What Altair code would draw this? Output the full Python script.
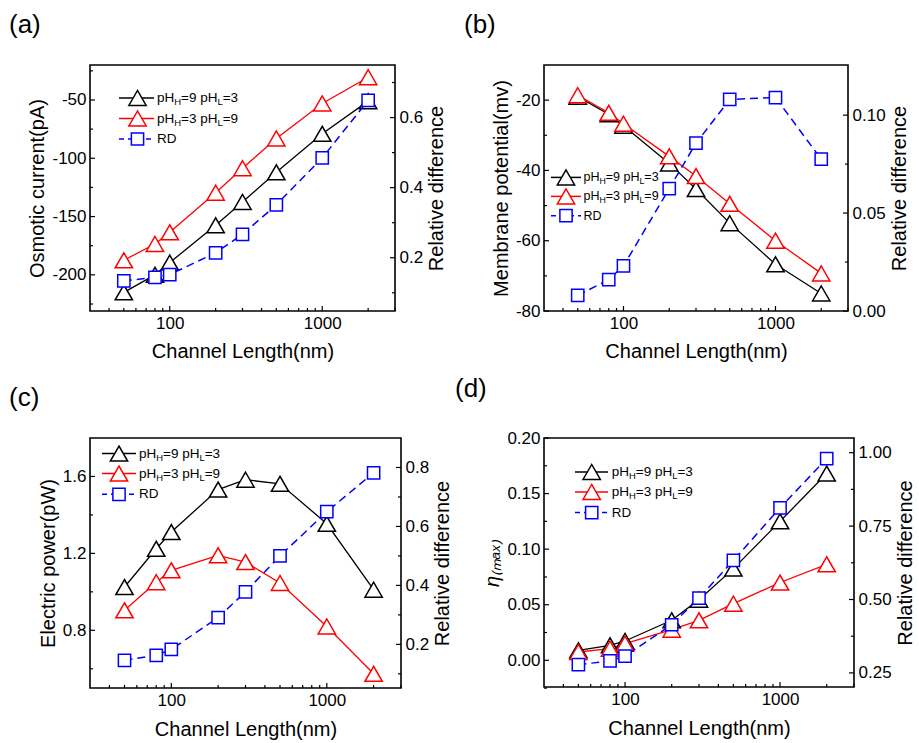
import altair as alt
import pandas as pd

# ---------------- data ----------------
X_NM = [50, 80, 100, 200, 300, 500, 1000, 2000]

# (a) osmotic current (pA)
A_HIGH = [-215, -200, -189.5, -157.5, -137.5, -112, -79, -51]
A_LOW = [-187.5, -173.5, -163.5, -129.5, -108.5, -83, -53, -30.5]
A_RD = [0.134, 0.144, 0.152, 0.214, 0.267, 0.351, 0.485, 0.649]

# (b) membrane potential (mV)
B_HIGH = [-19.0, -24.0, -27.3, -38.0, -45.3, -55.0, -66.7, -75.0]
B_LOW = [-18.6, -23.6, -26.7, -36.0, -41.6, -49.5, -60.0, -69.3]
B_RD = [0.008, 0.016, 0.023, 0.0625, 0.0857, 0.108, 0.109, 0.0775]

# (c) electric power (pW)
C_HIGH = [1.025, 1.224, 1.311, 1.532, 1.583, 1.562, 1.354, 1.011]
C_LOW = [0.904, 1.050, 1.112, 1.190, 1.155, 1.046, 0.820, 0.574]
C_RD = [0.146, 0.163, 0.183, 0.291, 0.378, 0.500, 0.650, 0.782]

# (d) eta (max)
D_HIGH = [0.009, 0.0135, 0.0174, 0.036, 0.0546, 0.0825, 0.125, 0.168]
D_LOW = [0.0075, 0.0105, 0.015, 0.0276, 0.036, 0.051, 0.070, 0.0864]
D_RD = [0.278, 0.291, 0.307, 0.414, 0.505, 0.633, 0.812, 0.980]

X_MAJOR = [100, 1000]
X_MINOR = [40, 50, 60, 70, 80, 90, 200, 300, 400, 500, 600, 700, 800, 900, 2000, 3000]

FONT = "Liberation Sans"
BLACK, RED, BLUE = "#000000", "#ff0000", "#0000ff"

# Arial-like advance widths (em) for legend layout
ADV = {"p": .556, "H": .722, "=": .584, "9": .556, " ": .278, "L": .556, "3": .556,
       "R": .722, "D": .722}


def tw(s, fs):
    return sum(ADV.get(c, .556) for c in s) * fs


def one():
    return alt.Chart(pd.DataFrame({"k": [0]}))


def legend_layers(cfg):
    rows, x1, x2, xm, xt, fs = cfg["rows"], cfg["x1"], cfg["x2"], cfg["xm"], cfg["xt"], cfg["fs"]
    layers = []
    styles = [(BLACK, "triangle-up", None, 300), (RED, "triangle-up", None, 300),
              (BLUE, "square", [5, 4], 150)]
    subs = [("pH", "H", "=9 pH", "L", "=3"), ("pH", "H", "=3 pH", "L", "=9")]
    sfs = fs * 0.7
    for i, (col, shp, dash, sz) in enumerate(styles):
        y = rows[i]
        rk = dict(color=col, strokeWidth=1.5)
        if dash:
            rk["strokeDash"] = dash
        layers.append(one().mark_rule(**rk).encode(
            x=alt.value(x1), x2=alt.value(x2), y=alt.value(y)))
        layers.append(one().mark_point(shape=shp, size=sz, filled=True, fill="white",
                                       stroke=col, strokeWidth=1.5, opacity=1).encode(
            x=alt.value(xm), y=alt.value(y)))
        if i < 2:
            a, b, c, d, e = subs[i]
            pieces = [(a, fs, 0), (b, sfs, fs * 0.3), (c, fs, 0), (d, sfs, fs * 0.3), (e, fs, 0)]
        else:
            pieces = [("RD", fs, 0)]
        cx = xt
        for txt, f, dy in pieces:
            layers.append(one().mark_text(text=txt, font=FONT, fontSize=f, align="left",
                                          baseline="middle", color="black").encode(
                x=alt.value(cx), y=alt.value(y + dy)))
            cx += tw(txt, f)
    return layers


def panel(label, title_dx, high, low, rd, W, H,
          ltitle, ldom, lvals, lminor, lfmt,
          rdom, rvals, rminor, rfmt, leg, xpad, ltitle_style=None):
    df = pd.DataFrame({"x": X_NM, "h": high, "l": low, "rd": rd})
    xsc = alt.Scale(type="log", domain=[30, 3000])
    xaxis = alt.Axis(values=X_MAJOR, format="d", title="Channel Length(nm)", titlePadding=xpad)
    xenc = alt.X("x:Q", scale=xsc, axis=xaxis)
    ysl = alt.Scale(domain=ldom, nice=False, zero=False)
    ysr = alt.Scale(domain=rdom, nice=False, zero=False)
    lax = dict(values=lvals, format=lfmt, title=ltitle, orient="left")
    if ltitle_style:
        lax.update(ltitle_style)
    laxis = alt.Axis(**lax)
    raxis = alt.Axis(values=rvals, format=rfmt, title="Relative difference", orient="right",
                     titleAngle=270, titleBaseline="top")
    base = alt.Chart(df)

    def pts(field, col, shp, sz, sc, ax):
        return base.mark_point(shape=shp, size=sz, filled=True, fill="white", stroke=col,
                               strokeWidth=1.5, opacity=1).encode(
            x=xenc, y=alt.Y(field + ":Q", scale=sc, axis=ax))

    def tdf(v):
        return alt.Chart(pd.DataFrame({"v": v})).mark_rule(color="black", strokeWidth=1.2)

    tick_x_major = tdf(X_MAJOR).encode(x=alt.X("v:Q", scale=xsc, axis=xaxis), y=alt.value(H), y2=alt.value(H - 5))
    tick_x_minor = tdf(X_MINOR).encode(x=alt.X("v:Q", scale=xsc, axis=xaxis), y=alt.value(H), y2=alt.value(H - 3))
    tick_l_major = tdf(lvals).encode(y=alt.Y("v:Q", scale=ysl, axis=laxis), x=alt.value(0), x2=alt.value(5))
    tick_l_minor = tdf(lminor).encode(y=alt.Y("v:Q", scale=ysl, axis=laxis), x=alt.value(0), x2=alt.value(3))
    tick_r_major = tdf(rvals).encode(y=alt.Y("v:Q", scale=ysr, axis=raxis), x=alt.value(W), x2=alt.value(W - 5))
    tick_r_minor = tdf(rminor).encode(y=alt.Y("v:Q", scale=ysr, axis=raxis), x=alt.value(W), x2=alt.value(W - 3))

    left = alt.layer(
        base.mark_line(color=BLACK, strokeWidth=1.3).encode(x=xenc, y=alt.Y("h:Q", scale=ysl, axis=laxis)),
        base.mark_line(color=RED, strokeWidth=1.3).encode(x=xenc, y=alt.Y("l:Q", scale=ysl, axis=laxis)),
        tick_x_major, tick_x_minor, tick_l_major, tick_l_minor,
        pts("h", BLACK, "triangle-up", 300, ysl, laxis),
        pts("l", RED, "triangle-up", 300, ysl, laxis),
    )
    right = alt.layer(
        base.mark_line(color=BLUE, strokeWidth=1.5, strokeDash=[8, 5]).encode(
            x=xenc, y=alt.Y("rd:Q", scale=ysr, axis=raxis)),
        pts("rd", BLUE, "square", 150, ysr, raxis),
        tick_r_major, tick_r_minor,
    )
    layers = [left, right] + legend_layers(leg)
    return alt.layer(*layers).resolve_scale(y="independent").properties(
        width=W, height=H,
        title=alt.TitleParams(text=label, anchor="start", frame="group", dx=title_dx, offset=27,
                              fontSize=26, font=FONT, fontWeight="normal", color="black"),
    )


pa = panel("(a)", -81, A_HIGH, A_LOW, A_RD, 305, 246,
           "Osmotic current(pA)", [-231, -20], [-200, -150, -100, -50], [-225, -175, -125, -75, -25], "d",
           [0.048, 0.75], [0.2, 0.4, 0.6], [0.1, 0.3, 0.5, 0.7], ".1f",
           dict(rows=[33, 53.5, 74], x1=29, x2=64, xm=47.5, xt=67, fs=13.5), 10)
pb = panel("(b)", -80, B_HIGH, B_LOW, B_RD, 304, 246,
           "Membrane potential(mv)", [-80, -10], [-80, -60, -40, -20], [-70, -50, -30], "d",
           [0, 0.1256], [0.0, 0.05, 0.10], [0.025, 0.075], ".2f",
           dict(rows=[112.4, 131.4, 150.7], x1=7, x2=37, xm=22, xt=39.5, fs=12.5), 10)
pc = panel("(c)", -81, C_HIGH, C_LOW, C_RD, 311, 250,
           "Electric power(pW)", [0.5, 1.8], [0.8, 1.2, 1.6], [0.6, 1.0, 1.4], ".1f",
           [0.052, 0.9], [0.2, 0.4, 0.6, 0.8], [0.1, 0.3, 0.5, 0.7], ".1f",
           dict(rows=[15.6, 35.6, 56.3], x1=12, x2=46, xm=29, xt=49, fs=13.5), 11)
pd_ = panel("(d)", -89, D_HIGH, D_LOW, D_RD, 310, 249,
            "η₍ₘₐₓ₎", [-0.024, 0.2], [0.0, 0.05, 0.10, 0.15, 0.20],
            [-0.025, 0.025, 0.075, 0.125, 0.175], ".2f",
            [0.202, 1.05], [0.25, 0.5, 0.75, 1.0], [0.375, 0.625, 0.875], ".2f",
            dict(rows=[34, 54, 74.6], x1=31, x2=64, xm=47.7, xt=67.7, fs=13.5), 11,
            ltitle_style=dict(titleFontStyle="italic", titleFontSize=20))

chart = alt.vconcat(
    alt.hconcat(pa, pb, spacing=15),
    alt.hconcat(pc, pd_, spacing=0),
    spacing=13,
).properties(
    padding={"left": 8, "right": 2, "top": 11, "bottom": 0},
    background="white",
).configure_view(
    stroke="black", strokeWidth=1.6,
).configure_axis(
    grid=False, domain=False, ticks=False,
    labelFont=FONT, labelFontSize=17, labelColor="black", labelPadding=4,
    labelExpr="replace(datum.label, '\u2212', '-')",
    titleFont=FONT, titleFontSize=20, titleFontWeight="normal", titleColor="black", titlePadding=4,
)

chart.save("out.html", embed_options={"renderer": "svg", "actions": False})
